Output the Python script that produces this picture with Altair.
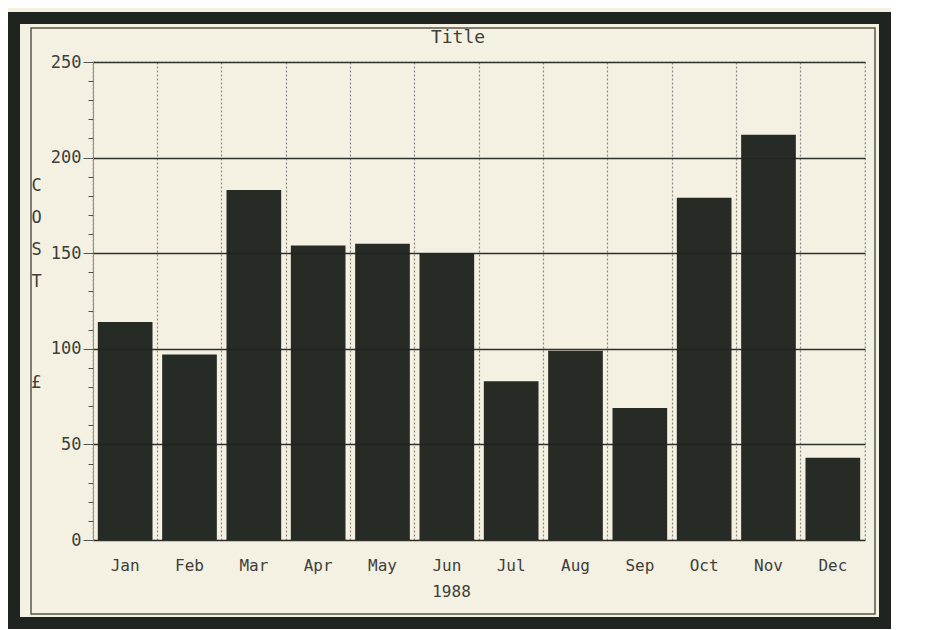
import altair as alt
import pandas as pd

months = ["Jan", "Feb", "Mar", "Apr", "May", "Jun", "Jul", "Aug", "Sep", "Oct", "Nov", "Dec"]
costs = [114, 97, 183, 154, 155, 150, 83, 99, 69, 179, 212, 43]
y_ticks = list(range(0, 251, 10))
y_title_lines = ["C", "O", "S", "T"]
y_unit = "£"
chart_title = "Title"
x_title = "1988"

df = pd.DataFrame({"month": months, "cost": costs})

W, H = 772, 478
INK = "#1f2420"
PAPER = "#f4f1e3"
TEXT = "#3e3f3b"
FONT = "DejaVu Sans Mono"

bars = alt.Chart(df).mark_bar(
    width=alt.RelativeBandSize(0.85), color=INK, opacity=0.97
).encode(
    x=alt.X(
        "month:N",
        sort=months,
        scale=alt.Scale(paddingInner=0, paddingOuter=0),
        axis=alt.Axis(
            title=x_title,
            labelAngle=0,
            ticks=False,
            domain=False,
            grid=True,
            bandPosition=0,
            gridDash=[2, 2],
            gridColor="#8a8a85",
            gridWidth=1.2,
            labelFont=FONT,
            labelFontSize=16,
            labelColor=TEXT,
            labelPadding=17,
            titleFont=FONT,
            titleFontSize=16,
            titleFontWeight="normal",
            titleColor=TEXT,
            titlePadding=10,
            titleAlign="center",
            titleX=358,
        ),
    ),
    y=alt.Y(
        "cost:Q",
        scale=alt.Scale(domain=[0, 250], nice=False),
        axis=alt.Axis(
            values=y_ticks,
            labelExpr="datum.value % 50 === 0 ? datum.label : ''",
            title=y_title_lines,
            titleAngle=0,
            titleFont=FONT,
            titleFontSize=17,
            titleFontWeight="normal",
            titleColor=TEXT,
            titleLineHeight=32,
            titleAlign="center",
            titleBaseline="top",
            titleX=-57,
            titleY=115,
            grid=True,
            gridColor="#2e302c",
            gridWidth=1.6,
            gridOpacity={"condition": {"test": "datum.value % 50 === 0", "value": 1}, "value": 0},
            tickSize={"condition": {"test": "datum.value % 50 === 0", "value": 10}, "value": 5},
            tickColor="#555550",
            domain=True,
            domainDash=[2, 2],
            domainColor="#8a8a85",
            labelFont=FONT,
            labelFontSize=17,
            labelColor=TEXT,
            labelPadding=2,
        ),
    ),
)

frame_data = alt.Data(values=[{"t": chart_title, "u": y_unit}])
outer = alt.Chart(frame_data).mark_rect(
    fill=None, stroke=INK, strokeWidth=12, clip=False
).encode(x=alt.value(-79), x2=alt.value(W + 20), y=alt.value(-44), y2=alt.value(H + 83))
inner = alt.Chart(frame_data).mark_rect(
    fill=None, stroke="#55574f", strokeWidth=1.5, clip=False
).encode(x=alt.value(-62), x2=alt.value(W + 10), y=alt.value(-34), y2=alt.value(H + 74))
title = alt.Chart(frame_data).mark_text(
    font=FONT, fontSize=18, color=TEXT, baseline="middle", align="center", clip=False
).encode(text="t:N", x=alt.value(365), y=alt.value(-24))
unit = alt.Chart(frame_data).mark_text(
    font=FONT, fontSize=17, color=TEXT, baseline="top", align="center", clip=False
).encode(text="u:N", x=alt.value(-57), y=alt.value(115 + 32 * 6 + 6))

chart = alt.layer(outer, inner, title, unit, bars).properties(
    width=W,
    height=H,
    background=PAPER,
    padding={"left": 0, "top": 4, "right": 0, "bottom": 0},
).configure_view(
    fill=PAPER, stroke="#8a8a85", strokeDash=[2, 2], strokeWidth=1.2
)

chart.save("out.html", embed_options={"renderer": "svg", "actions": False})
